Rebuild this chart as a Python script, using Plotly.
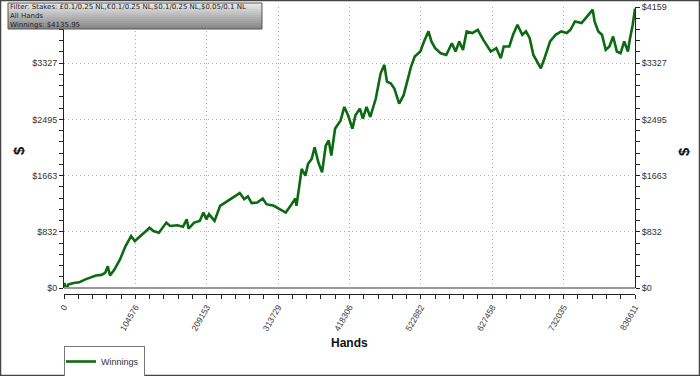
import plotly.graph_objects as go

# ---------------- data ----------------
hands = [0, 543, 3260, 5976, 14125, 22273, 30422, 38571, 46720, 54868, 60301, 64104,
         67363, 73882, 82031, 90180, 98328, 103761, 109193, 117342, 125491, 130924,
         139072, 149937, 155370, 166235, 174383, 179816, 182532, 190681, 198830, 204262,
         208608, 212411, 220559, 228708, 236857, 247722, 257501, 264020, 269452, 274885,
         283034, 291182, 296615, 307480, 315628, 324864, 331926, 338989, 340618, 348224,
         353656, 357459, 362891, 367237, 372670, 378102, 383535, 387881, 391683, 397116,
         405265, 410697, 416130, 422649, 426995, 433514, 437860, 443292, 448725, 456873,
         463936, 469368, 473171, 478603, 484036, 491098, 497617, 503050, 508482, 513915,
         522063, 527496, 534015, 538361, 543793, 551942, 560091, 568240, 573672, 579105,
         584537, 589970, 598118, 606267, 614416, 625281, 633430, 639949, 644295, 652443,
         657876, 664395, 671457, 676890, 682322, 687755, 693187, 698620, 704052, 712201,
         720350, 728498, 736647, 742080, 748599, 758377, 766526, 774675, 777391, 782824,
         788256, 793689, 799121, 804554, 809986, 815419, 820851, 826284, 828900, 833288,
         836611]
winnings = [0, 74, -50, 50, 74, 84, 124, 149, 184, 194, 223, 323,
            184, 273, 422, 620, 769, 695, 744, 819, 893, 844,
            819, 968, 918, 928, 908, 1017, 878, 968, 993, 1117,
            1017, 1092, 993, 1216, 1266, 1340, 1405, 1315, 1355, 1256,
            1266, 1325, 1241, 1216, 1166, 1117, 1216, 1325, 1216, 1762,
            1663, 1836, 1911, 2084, 1861, 1712, 2109, 2184, 1960, 2357,
            2481, 2680, 2556, 2357, 2556, 2655, 2506, 2680, 2531, 2804,
            3178, 3302, 3054, 3029, 2953, 2730, 2854, 3054, 3277, 3426,
            3500, 3649, 3798, 3649, 3549, 3474, 3449, 3623, 3500, 3649,
            3524, 3798, 3773, 3822, 3673, 3500, 3549, 3400, 3574, 3574,
            3748, 3896, 3748, 3798, 3698, 3449, 3350, 3251, 3400, 3649,
            3748, 3798, 3773, 3822, 3946, 3921, 4020, 4119, 3946, 3798,
            3748, 3524, 3574, 3723, 3500, 3474, 3649, 3500, 3673, 3896,
            4135.95]

x_tickvals = [0, 104576, 209153, 313729, 418306, 522882, 627458, 732035, 836611]
x_ticktext = ["0", "104576", "209153", "313729", "418306", "522882", "627458", "732035", "836611"]
y_tickvals = [0, 832, 1663, 2495, 3327, 4159]
y_ticktext = ["$0", "$832", "$1663", "$2495", "$3327", "$4159"]
# the top-left label is hidden behind the info box in the original
y_ticktext_left = ["$0", "$832", "$1663", "$2495", "$3327", ""]

series_name = "Winnings"
info_lines = ["Filter: Stakes: £0.1/0.25 NL,€0.1/0.25 NL,$0.1/0.25 NL,$0.05/0.1 NL",
              "All Hands",
              "Winnings: $4135.95"]

# ---------------- layout geometry (pixels) ----------------
W, H = 700, 376
L, R = 64, 635          # plot left / right
TOP, PBOT, XAX = 7, 288, 294   # plot top, plot bottom, x-axis line
PW, PH = R - L, XAX - TOP

def px(x):
    return (x - L) / PW

def py(y):
    return (XAX - y) / PH

LINE = "#0d6a12"
FONT = "Liberation Sans, Arial, sans-serif"
GRID = "1px,3px"

fig = go.Figure()
fig.add_trace(go.Scatter(x=hands, y=winnings, mode="lines", name=series_name,
                         line=dict(color=LINE, width=2.6)))
fig.add_trace(go.Scatter(x=hands, y=winnings, mode="lines", yaxis="y2",
                         showlegend=False, hoverinfo="skip",
                         line=dict(color="rgba(0,0,0,0)", width=0)))

yax_common = dict(range=[0, 4159], tickvals=y_tickvals,
                  ticks="outside", ticklen=4, tickcolor="#222", tickwidth=1,
                  minor=dict(ticks="outside", ticklen=4, tickcolor="#222",
                             tick0=0, dtick=4159 / 25, showgrid=False),
                  showline=True, linecolor="#222", linewidth=1,
                  tickfont=dict(family=FONT, size=9, color="#333"),
                  zeroline=False, domain=[(XAX - PBOT) / PH, 1])

fig.update_layout(
    width=W, height=H,
    margin=dict(l=L, r=W - R, t=TOP, b=H - XAX, autoexpand=False),
    paper_bgcolor="white", plot_bgcolor="white",
    showlegend=True,
    legend=dict(xref="container", yref="container", x=L / W, y=1 - 361.5 / H,
                xanchor="left", yanchor="middle", bordercolor="#777", borderwidth=1,
                bgcolor="white", font=dict(family=FONT, size=9, color="#333"),
                itemwidth=30, tracegroupgap=0, indentation=-4),
    xaxis=dict(range=[0, 836611], tickvals=x_tickvals, ticktext=x_ticktext,
               tickangle=-60, anchor="free", position=0,
               ticks="outside", ticklen=4, tickcolor="#222",
               minor=dict(ticks="outside", ticklen=4, tickcolor="#222",
                          tick0=0, dtick=836611 / 40, showgrid=False),
               showline=True, linecolor="#222", linewidth=1,
               showgrid=True, gridcolor="#b0b0b0", griddash=GRID, gridwidth=1,
               zeroline=False, tickfont=dict(family=FONT, size=8.5, color="#333")),
    yaxis=dict(side="left", showgrid=True, gridcolor="#b0b0b0", griddash=GRID,
               gridwidth=1, ticktext=y_ticktext_left, **yax_common),
    yaxis2=dict(side="right", overlaying="y", showgrid=False,
                ticktext=y_ticktext, **yax_common),
)

shapes = []
# grey plot-bottom border
shapes.append(dict(type="line", xref="paper", yref="paper", x0=0, x1=1,
                   y0=py(PBOT), y1=py(PBOT), line=dict(color="#9a9a9a", width=2)))
# frame around the whole picture
shapes.append(dict(type="rect", xref="paper", yref="paper", x0=px(0.5), x1=px(W - 0.5),
                   y0=py(H - 0.5), y1=py(0.5), line=dict(color="#444", width=1.5)))
# gradient info box
bx0, bx1, by0, by1 = 8, 262, 3, 29
n = 13
for i in range(n):
    t = i / (n - 1)
    g = int(232 - t * (232 - 135))
    ya = by0 + (by1 - by0) * i / n
    yb = by0 + (by1 - by0) * (i + 1) / n
    shapes.append(dict(type="rect", xref="paper", yref="paper", x0=px(bx0), x1=px(bx1),
                       y0=py(yb), y1=py(ya), line=dict(width=0),
                       fillcolor=f"rgb({g},{g},{g})", layer="above"))
shapes.append(dict(type="rect", xref="paper", yref="paper", x0=px(bx0), x1=px(bx1),
                   y0=py(by1), y1=py(by0), line=dict(color="#555", width=1),
                   fillcolor="rgba(0,0,0,0)", layer="above"))
fig.update_layout(shapes=shapes)

ann = []
ann.append(dict(text="<br>".join(info_lines), xref="paper", yref="paper",
                x=px(bx0 + 1), y=py(2), xanchor="left", yanchor="top", align="left",
                showarrow=False, borderpad=0,
                font=dict(family="DejaVu Sans", size=7, color="#222")))
ann.append(dict(text="<b>Hands</b>", xref="paper", yref="paper", x=px(349.5), y=py(343),
                xanchor="center", yanchor="middle", showarrow=False,
                font=dict(family=FONT, size=12, color="#111")))
for xp in (18, 683):
    ann.append(dict(text="<b>$</b>", xref="paper", yref="paper", x=px(xp), y=py(151),
                    xanchor="center", yanchor="middle", showarrow=False, textangle=-90,
                    font=dict(family=FONT, size=15, color="#111")))
fig.update_layout(annotations=ann)

fig.write_html("out.html")
